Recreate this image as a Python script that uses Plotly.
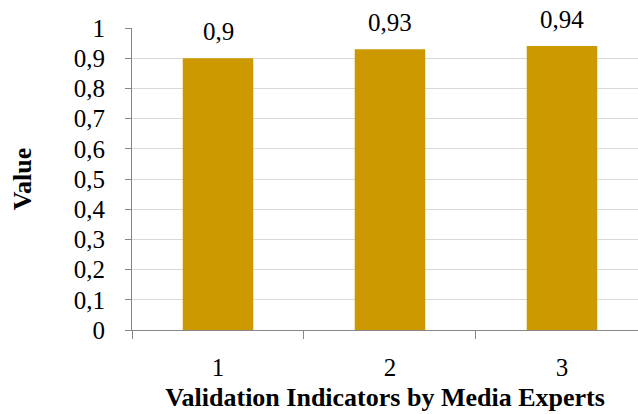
import plotly.graph_objects as go

# Validation scores per indicator
indicators = ["1", "2", "3"]
scores = [0.90, 0.93, 0.94]
y_ticks = [0, 0.1, 0.2, 0.3, 0.4, 0.5, 0.6, 0.7, 0.8, 0.9, 1.0]

FONT = "Liberation Serif, Times New Roman, serif"
BAR_COLOR = "#CC9900"
TICK_SIZE = 25
TITLE_SIZE = 26

fig = go.Figure()
fig.add_trace(go.Bar(
    x=indicators,
    y=scores,
    width=0.41,
    marker=dict(color=BAR_COLOR, line=dict(width=0)),
    hoverinfo="skip",
))

# Value labels above the bars (category axis: position by index)
for i, val in enumerate(scores):
    fig.add_annotation(
        x=i, y=val, xref="x", yref="y",
        text=f"{val:g}".replace(".", ","),
        showarrow=False, yanchor="bottom", yshift=11,
        font=dict(family=FONT, size=TICK_SIZE, color="black"),
    )

fig.update_layout(
    width=638, height=414,
    margin=dict(l=132, r=0, t=28, b=84),
    paper_bgcolor="white", plot_bgcolor="white",
    separators=",.",
    showlegend=False,
    font=dict(family=FONT, size=TICK_SIZE, color="black"),
)

fig.update_xaxes(
    type="category",
    range=[-0.5, 2.442],
    tickson="boundaries",
    ticks="outside", ticklen=8, tickcolor="#868686",
    ticklabelstandoff=15,
    showline=True, linecolor="#868686", linewidth=1,
    showgrid=False,
    tickfont=dict(family=FONT, size=TICK_SIZE),
    title=dict(text="<b>Validation Indicators by Media Experts</b>",
               font=dict(family=FONT, size=TITLE_SIZE), standoff=7),
)

fig.update_yaxes(
    range=[0, 1],
    tickvals=y_ticks,
    ticks="outside", ticklen=6, tickcolor="#868686",
    ticklabelstandoff=15,
    showline=True, linecolor="#868686", linewidth=1,
    showgrid=True, gridcolor="#d9d9d9", gridwidth=1,
    zeroline=False,
    tickfont=dict(family=FONT, size=TICK_SIZE),
    title=dict(text="<b>Value</b>", font=dict(family=FONT, size=TITLE_SIZE), standoff=34),
)

fig.write_html("out.html")
